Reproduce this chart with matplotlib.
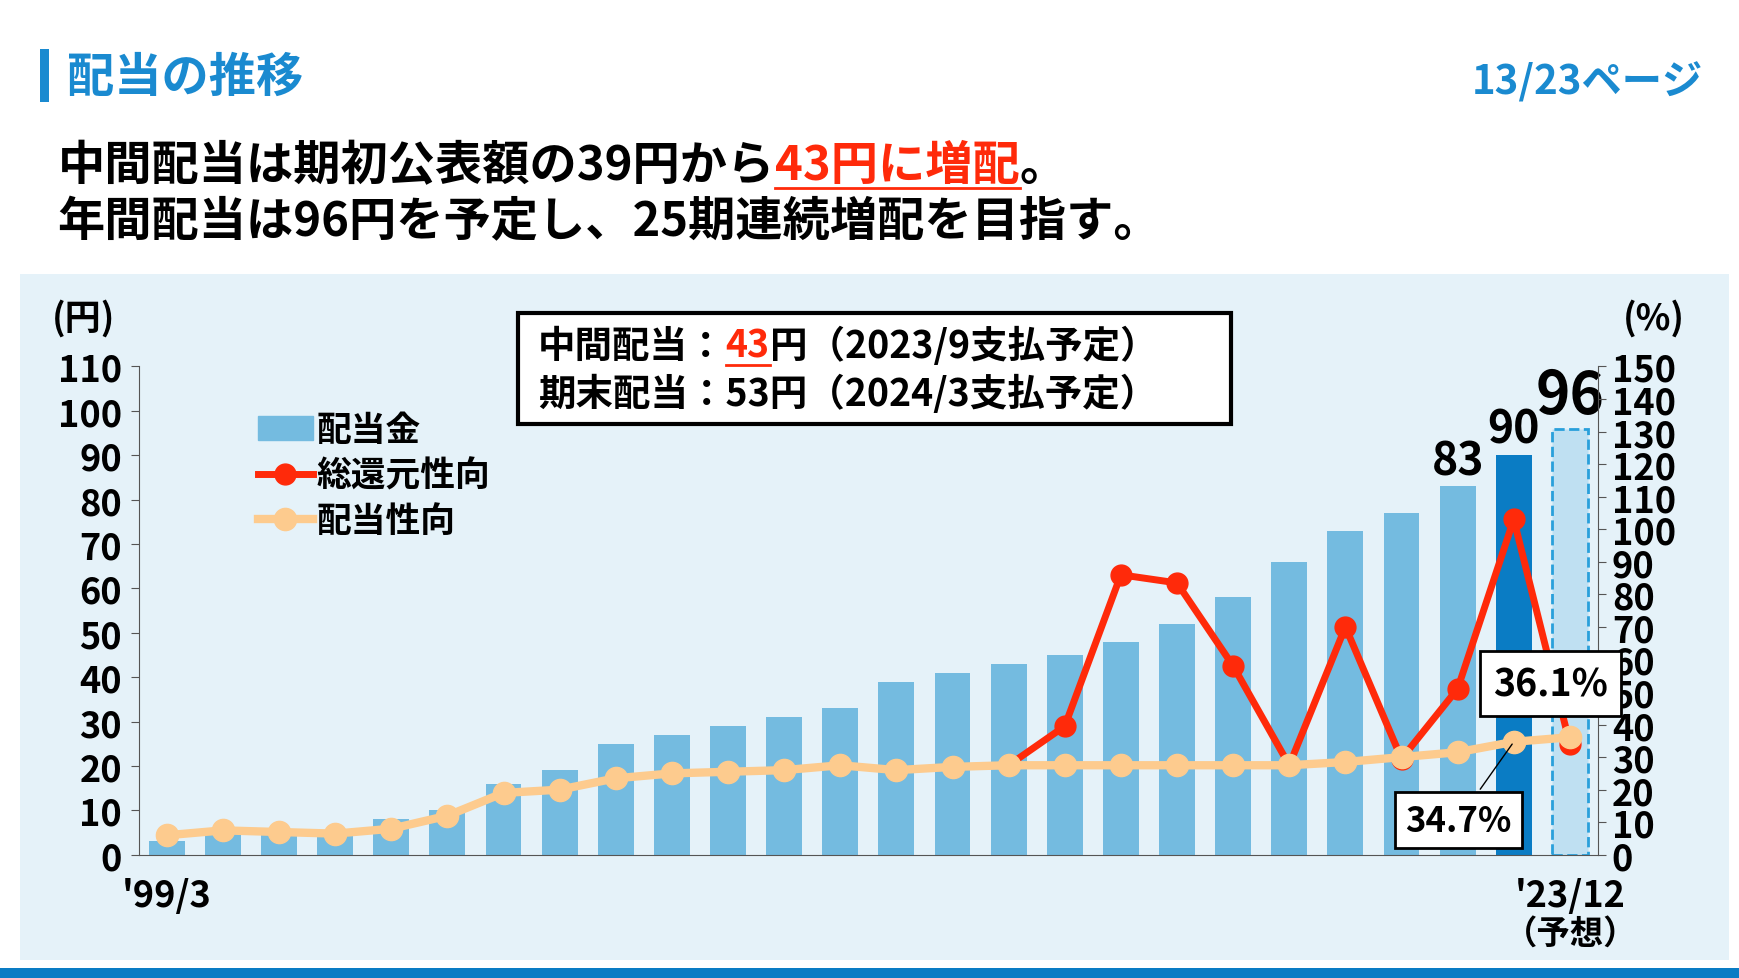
import matplotlib
matplotlib.use("Agg")
import matplotlib.pyplot as plt
from matplotlib.patches import Rectangle, Patch
from matplotlib.lines import Line2D
import numpy as np

plt.rcParams['font.family'] = 'Noto Sans CJK JP'
plt.rcParams['font.weight'] = 'bold'

dividend = [3, 5, 5, 5, 8, 10, 16, 19, 25, 27, 29, 31, 33, 39, 41, 43, 45, 48, 52, 58, 66, 73, 77, 83, 90, 96]
payout = [6, 7.5, 7, 6.5, 8, 12, 19, 20, 23.5, 25, 25.5, 26, 27.5, 26, 27, 27.5, 27.5, 27.5, 27.5, 27.5, 27.5, 28.5, 30, 31.5, 34.7, 36.1]
total_idx = list(range(15, 26))
total_return = [27.5, 39.5, 86, 83.5, 58, 27.5, 70, 29.5, 51, 103, 34]
left_ticks = list(range(0, 111, 10))
right_ticks = list(range(0, 151, 10))

W, H = 1568, 882
fx = lambda x: x / W
fy = lambda y: 1 - y / H

fig = plt.figure(figsize=(17.4, 9.79), dpi=100)
fig.patch.set_facecolor('white')
fig.patches.append(Rectangle((fx(18), fy(866)), fx(1558) - fx(18), fy(248) - fy(866), transform=fig.transFigure, facecolor='#E5F2F9', edgecolor='none', zorder=-2))
fig.patches.append(Rectangle((0, 0), 1, fy(873), transform=fig.transFigure, facecolor='#0A7CC4', edgecolor='none', zorder=-2))
fig.patches.append(Rectangle((fx(36), fy(93)), fx(8), fy(45) - fy(93), transform=fig.transFigure, facecolor='#1A8AD0', edgecolor='none', zorder=-2))
fig.text(fx(60), fy(70), '配当の推移', fontsize=34, color='#1A8AD0', va='center', ha='left')
fig.text(fx(1535), fy(75), '13/23ページ', fontsize=29, color='#1A8AD0', va='center', ha='right')

r = fig.canvas.get_renderer()
x0 = fx(52)
parts = [('中間配当は期初公表額の39円から', 'black', False), ('43円に増配', '#FF2A0A', True), ('。', 'black', False)]
for s, c, u in parts:
    t = fig.text(x0, fy(150), s, fontsize=34, color=c, va='center', ha='left')
    w = t.get_window_extent(r).width / fig.bbox.width
    if u:
        fig.add_artist(Line2D([x0, x0 + w], [fy(170), fy(170)], color=c, lw=2, transform=fig.transFigure))
    x0 += w
fig.text(fx(52), fy(200), '年間配当は96円を予定し、25期連続増配を目指す。', fontsize=34, color='black', va='center', ha='left')

ax = fig.add_axes([fx(125), fy(771), fx(1440) - fx(125), fy(331) - fy(771)], zorder=1)
ax.set_facecolor('none')
x = np.arange(len(dividend))
colors = ['#74BBE0'] * 24 + ['#0A7CC4', '#BFE0F2']
bars = ax.bar(x, dividend, width=0.64, color=colors, zorder=2)
bars[-1].set_edgecolor('#29A0DB'); bars[-1].set_linestyle('--'); bars[-1].set_linewidth(2)
ax.set_xlim(-0.5, 25.5)
ax.set_ylim(0, 110)
ax.set_yticks(left_ticks)
ax.set_xticks([])
for s in ['top', 'right']:
    ax.spines[s].set_visible(False)
ax.spines['left'].set_color('#555555'); ax.spines['bottom'].set_color('#555555')
ax.tick_params(axis='y', labelsize=26, length=6, color='#555555', pad=6)

ax2 = ax.twinx()
ax2.set_ylim(0, 150)
ax2.set_yticks(right_ticks)
ax2.tick_params(axis='y', labelsize=26, length=6, color='#555555', pad=4)
for s in ['top', 'left', 'bottom']:
    ax2.spines[s].set_visible(False)
ax2.spines['right'].set_color('#555555')
ax2.plot(total_idx, total_return, color='#FF2A0A', lw=5, marker='o', ms=15, zorder=2)
ax2.plot(x, payout, color='#FDCB8E', lw=6, marker='o', ms=16, zorder=4)

for i, fs in [(23, 32), (24, 32), (25, 42)]:
    ax.text(i, dividend[i] + 0.5, str(dividend[i]), ha='center', va='bottom', fontsize=fs, zorder=5)

ax2.annotate('36.1%', xy=(25, payout[25]), xytext=(fx(1397), fy(617)), textcoords='figure fraction',
             ha='center', va='center', fontsize=27, zorder=6,
             bbox=dict(boxstyle='square,pad=0.35', fc='white', ec='black', lw=2))
ax2.annotate('34.7%', xy=(24, payout[24]), xytext=(fx(1314), fy(740)), textcoords='figure fraction',
             ha='center', va='center', fontsize=25, zorder=6,
             bbox=dict(boxstyle='square,pad=0.3', fc='white', ec='black', lw=2),
             arrowprops=dict(arrowstyle='-', color='black', lw=1))

fig.text(fx(75), fy(287), '(円)', fontsize=26, ha='center', va='center')
fig.text(fx(1490), fy(287), '(%)', fontsize=26, ha='center', va='center')
fig.text(fx(150), fy(808), "'99/3", fontsize=26, ha='center', va='center')
fig.text(fx(1415), fy(808), "'23/12", fontsize=26, ha='center', va='center')
fig.text(fx(1415), fy(842), "（予想）", fontsize=24, ha='center', va='center')

fig.patches.append(Rectangle((fx(467), fy(383)), fx(1109) - fx(467), fy(283) - fy(383), transform=fig.transFigure, facecolor='white', edgecolor='black', lw=3, zorder=5))
x0 = fx(485)
for s, c, u in [('中間配当：', 'black', False), ('43', '#FF2A0A', True), ('円（2023/9支払予定）', 'black', False)]:
    t = fig.text(x0, fy(312), s, fontsize=27, color=c, va='center', ha='left', zorder=6)
    w = t.get_window_extent(r).width / fig.bbox.width
    if u:
        fig.add_artist(Line2D([x0, x0 + w], [fy(330), fy(330)], color=c, lw=2, transform=fig.transFigure, zorder=6))
    x0 += w
fig.text(fx(485), fy(355), '期末配当：53円（2024/3支払予定）', fontsize=27, va='center', ha='left', zorder=6)

handles = [Patch(color='#74BBE0'),
           Line2D([], [], color='#FF2A0A', lw=5, marker='o', ms=15),
           Line2D([], [], color='#FDCB8E', lw=6, marker='o', ms=16)]
ax2.legend(handles, ['配当金', '総還元性向', '配当性向'], loc='upper left', bbox_to_anchor=(0.06, 0.97),
           frameon=False, fontsize=25, handlelength=1.6, handletextpad=0.1, labelspacing=0.3)
fig.savefig('out.png', dpi=100)
